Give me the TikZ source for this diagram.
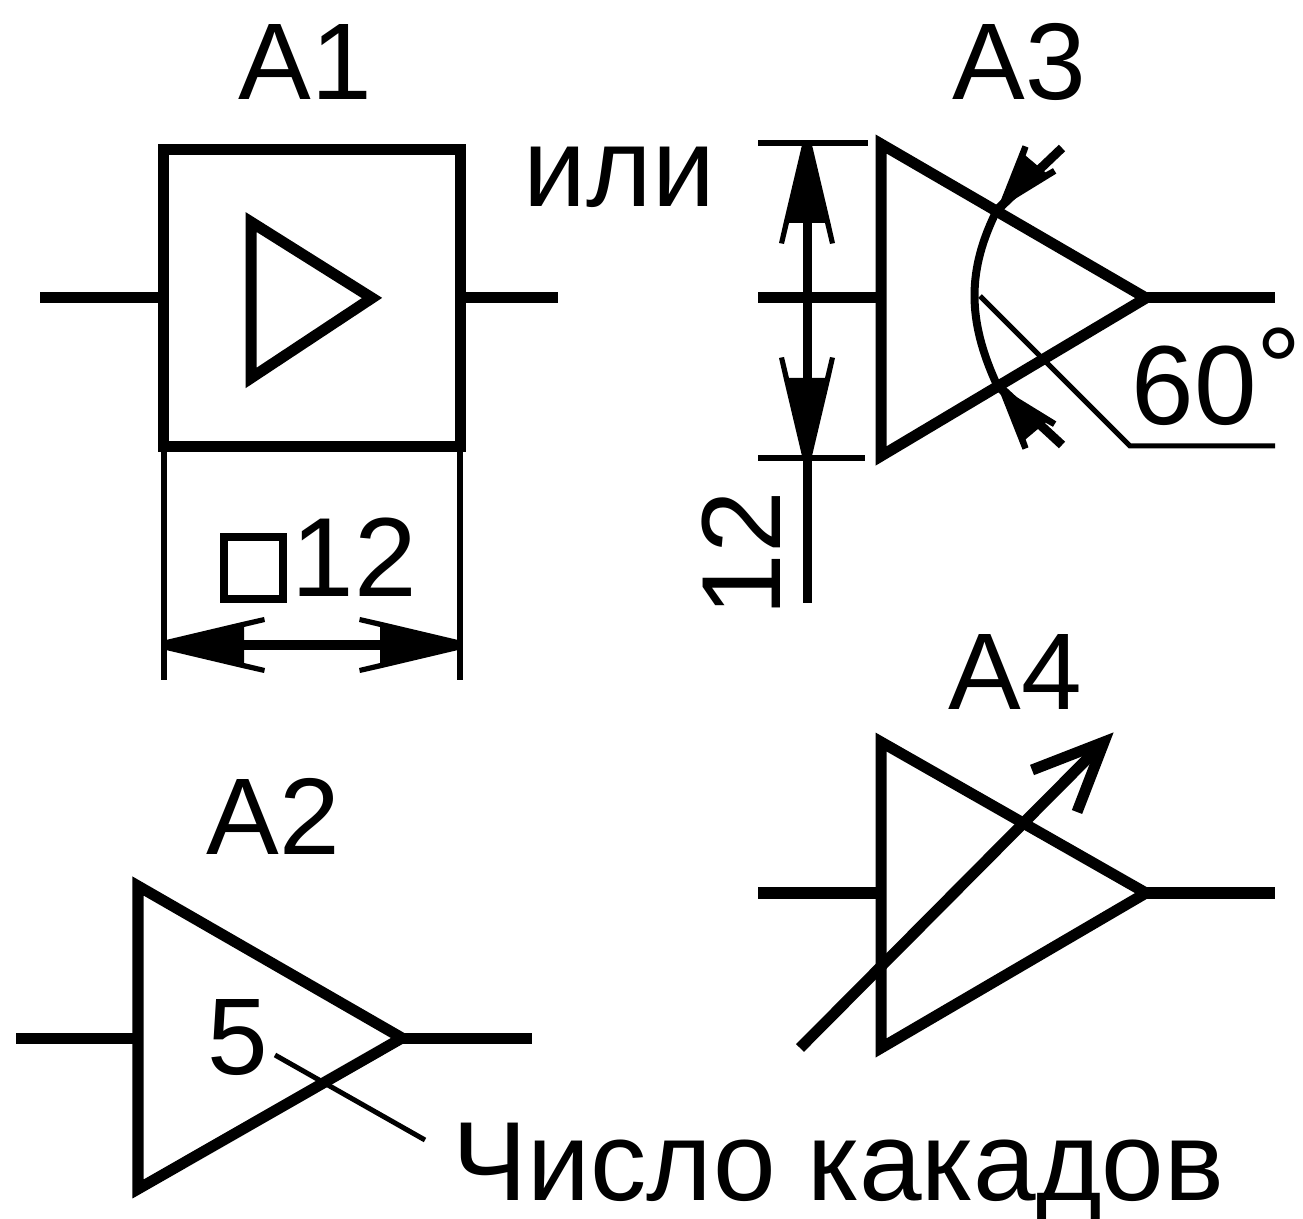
\documentclass[tikz,border=0pt]{standalone}
\usepackage{fontspec}
\setmainfont{Liberation Sans}
\tikzset{
    heavy/.style={line width=0.11cm,line join=miter},
    stem/.style={line width=0.09cm},
    dimline/.style={line width=0.055cm},
    thinline/.style={line width=0.05cm},
    label/.style={inner sep=0pt,anchor=base west,font=\fontsize{31}{31}\selectfont},
    biglabel/.style={label,font=\fontsize{32}{32}\selectfont},
    dimtip/.pic={
        \fill (0,-5) -- (76,-23) -- (98,-28) -- (99,-23) -- (78,-18) -- (78,18) -- (99,23) -- (98,28) -- (76,23) -- (0,5) -- cycle;
    },
    arctip/.pic={
        \fill (0,0) -- (66,-22) -- (68,-16) -- (60,-13) -- (60,13) -- (68,16) -- (66,22) -- cycle;
    },
}
\begin{document}
\begin{tikzpicture}[x=0.01cm,y=-0.01cm]
    \useasboundingbox (0,0) rectangle (1303,1219);
    %% Anchor points
    \coordinate (A1in) at (40,298);
    \coordinate (A1out) at (558,298);
    \coordinate (A2in) at (16,1038);
    \coordinate (A2out) at (532,1038);
    \coordinate (A2west) at (138,1038);
    \coordinate (A2tip) at (402,1038);
    \coordinate (A3in) at (758,298);
    \coordinate (A3out) at (1275,298);
    \coordinate (A3west) at (881,298);
    \coordinate (A3tip) at (1146,298);
    \coordinate (A4in) at (758,893);
    \coordinate (A4out) at (1275,893);
    \coordinate (A4west) at (881,893);
    \coordinate (A4tip) at (1146,893);
    %% Blocks
    \node[draw,heavy,minimum size=2.96cm,inner sep=0pt,outer sep=0pt] (A1box) at (312,298) {};
    \draw[heavy] (251,222) -- (372,298) -- (251,378) -- cycle;
    \draw[heavy] (138,886) -- (A2tip) -- (138,1189) -- cycle;
    \draw[heavy] (881,144) -- (A3tip) -- (881,456) -- cycle;
    \draw[heavy] (881,742) -- (A4tip) -- (881,1048) -- cycle;
    %% Leads
    \draw[heavy] (A1in) -- (A1in -| A1box.west);
    \draw[heavy] (A1box.east |- A1out) -- (A1out);
    \draw[heavy] (A2in) -- (A2west);
    \draw[heavy] (A2tip) -- (A2out);
    \draw[heavy] (A3in) -- (A3west);
    \draw[heavy] (A3tip) -- (A3out);
    \draw[heavy] (A4in) -- (A4west);
    \draw[heavy] (A4tip) -- (A4out);
    %% Dimensions of A1
    \coordinate (A1dimL) at (166,645);
    \coordinate (A1dimR) at (458,645);
    \draw[dimline] (A1box.south west) -- ++(0,234);
    \draw[dimline] (A1box.south east) -- ++(0,234);
    \draw[stem] (A1dimL) -- (A1dimR);
    \pic at (A1dimL) {dimtip};
    \pic[rotate=180] at (A1dimR) {dimtip};
    \node[draw,line width=0.08cm,minimum width=0.59cm,minimum height=0.62cm,inner sep=0pt] (sq) at (253.5,568) {};
    \node[biglabel] (A1size) at (291,597) {12};
    %% Dimensions of A3
    \coordinate (A3dimT) at (807,145);
    \coordinate (A3dimB) at (807,456);
    \draw[dimline] (758,143) -- (868,143);
    \draw[dimline] (758,458) -- (865,458);
    \draw[stem] (A3dimT) -- (807,603);
    \pic[rotate=-90] at (A3dimT) {dimtip};
    \pic[rotate=90] at (A3dimB) {dimtip};
    \node[biglabel,rotate=90] (A3size) at (780,617) {12};
    %% Angle of A3
    \coordinate (A3arcT) at (997,210);
    \coordinate (A3arcB) at (997,385);
    \draw[line width=0.08cm] (A3arcT) .. controls (967,270) and (967,320) .. (A3arcB);
    \pic[rotate=50] at (A3arcT) {arctip};
    \pic[rotate=-50] at (A3arcB) {arctip};
    \draw[stem] (A3arcT) -- (1062,148);
    \draw[stem] (A3arcB) -- (1062,445);
    \draw[thinline] (980,296) -- (1130,446) -- (1275,446);
    \node[biglabel] (angle) at (1131,425) {60\raisebox{0.18cm}{°}};
    %% Adjustable arrow of A4
    \coordinate (A4arrS) at (800,1048);
    \coordinate (A4arrE) at (1104,742);
    \draw[heavy] (A4arrS) -- (A4arrE);
    \draw[heavy] (1032,770) -- (A4arrE) -- (1077,812);
    %% Cascades of A2
    \node[label] (five) at (207,1074) {5};
    \draw[thinline] (275,1055) -- (425,1140);
    \node[biglabel] (cascades) at (452,1200) {Число какадов};
    %% Names
    \node[label] (A1) at (238,100) {A1};
    \node[label] (A2) at (206,854) {A2};
    \node[label] (A3) at (952,100) {A3};
    \node[label] (A4) at (948,710) {A4};
    \node[biglabel] (or) at (523,207) {или};
\end{tikzpicture}
\end{document}
